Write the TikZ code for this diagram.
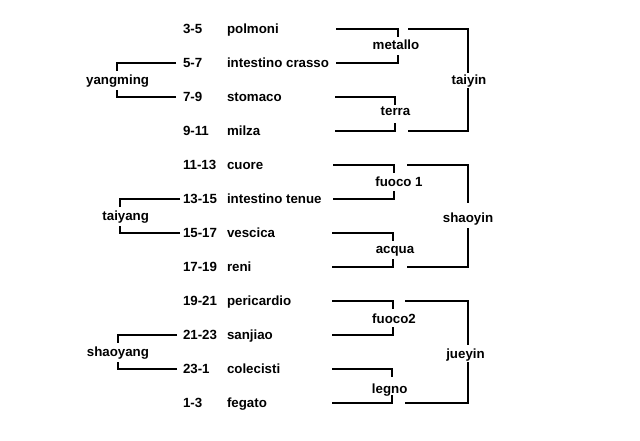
\documentclass[tikz,border=0pt]{standalone}
\usepackage{fontspec}
\setmainfont{Liberation Sans}
\begin{document}
\begin{tikzpicture}[x=1pt,y=-1pt,line width=2pt,
  txt/.style={font=\bfseries\fontsize{13.3}{16}\selectfont,inner sep=0pt,anchor=base west},
  lbl/.style={font=\bfseries\fontsize{13.3}{16}\selectfont,inner sep=0pt,anchor=base}]
\useasboundingbox[fill=white] (0,0) rectangle (640,441);
% rows
\foreach \k/\num/\name in {0/3-5/polmoni, 1/5-7/intestino crasso, 2/7-9/stomaco,
  3/9-11/milza, 4/11-13/cuore, 5/13-15/intestino tenue, 6/15-17/vescica,
  7/17-19/reni, 8/19-21/pericardio, 9/21-23/sanjiao, 10/23-1/colecisti, 11/1-3/fegato}{
  \node[txt] (num\k) at (182,{28.8+34*\k+5}) {\num};
  \node[txt] (name\k) at (226,{28.8+34*\k+5}) {\name};
}
% middle brackets (elements)
\foreach \nm/\txt/\ya/\xl/\xr/\lx/\lb in {
  metallo/metallo/28.8/336/397.5/396/49.5,
  terra/terra/96.8/335/395/395.5/115.2,
  fuocoA/fuoco 1/164.8/333/394/399/186.2,
  acqua/acqua/232.8/332/393/395/253.5,
  fuocoB/fuoco2/300.8/332/393/394/323.5,
  legno/legno/368.8/332/392/389.7/393.5}{
  \node[lbl] (\nm) at (\lx,\lb) {\txt};
  \coordinate (\nm-ta) at (\xl,\ya);
  \coordinate (\nm-tb) at (\xr,{\ya+8});
  \coordinate (\nm-ba) at (\xl,{\ya+34});
  \coordinate (\nm-bb) at (\xr,{\ya+26});
  \draw (\nm-ta) -| (\nm-tb);
  \draw (\nm-ba) -| (\nm-bb);
}
% right brackets (yin channels)
\foreach \nm/\ya/\xl/\ga/\gb/\lx/\lb in {
  taiyin/28.8/408/73/88/469/84.5,
  shaoyin/164.8/407/203/228/468/222.5,
  jueyin/300.8/405/345/362/465.5/358.5}{
  \node[lbl] (\nm) at (\lx,\lb) {\nm};
  \coordinate (\nm-ta) at (\xl,\ya);
  \coordinate (\nm-tb) at (468,\ga);
  \coordinate (\nm-ba) at (\xl,{\ya+102});
  \coordinate (\nm-bb) at (468,\gb);
  \draw (\nm-ta) -| (\nm-tb);
  \draw (\nm-ba) -| (\nm-bb);
}
% left brackets (yang channels)
\foreach \nm/\ya/\xv/\xr/\lb in {
  yangming/62.8/117/176/84.5,
  taiyang/198.8/119.5/180/220.2,
  shaoyang/334.8/118/177/356.8}{
  \node[lbl,anchor=base east] (\nm) at (150,\lb) {\nm};
  \coordinate (\nm-ta) at (\xr,\ya);
  \coordinate (\nm-tb) at (\xv,{\ya+8});
  \coordinate (\nm-ba) at (\xr,{\ya+34});
  \coordinate (\nm-bb) at (\xv,{\ya+27});
  \draw (\nm-ta) -| (\nm-tb);
  \draw (\nm-ba) -| (\nm-bb);
}
\end{tikzpicture}
\end{document}
